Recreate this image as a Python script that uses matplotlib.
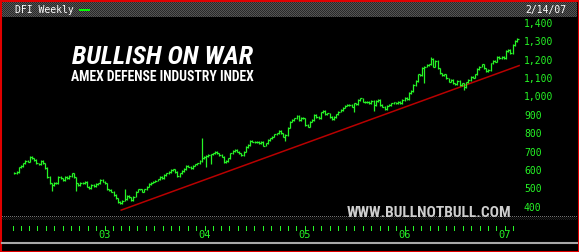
import numpy as np
import pandas as pd
import matplotlib
matplotlib.use("Agg")
import matplotlib.pyplot as plt
import matplotlib.dates as mdates
import matplotlib.transforms as mtransforms
from matplotlib.patches import Rectangle
from matplotlib.lines import Line2D

W, H = 579, 252

# weekly closes (2002 -> mid 2003, 2003 -> 2005, 2005 -> 2/14/07)
closes_a = [586, 593, 617, 624, 639, 653, 648, 675, 666, 657,
            639, 635, 653, 639, 614, 566, 530, 521, 534, 530,
            566, 557, 548, 566, 557, 570, 585, 563, 530, 521,
            534, 530, 539, 512, 503, 521, 516, 527, 530, 548,
            539, 530, 498, 494, 485, 467, 449, 430, 422, 436,
            443, 461, 454, 440, 458, 485, 498, 498, 485, 498,
            512, 527, 534, 539, 545, 552, 566, 557, 576, 585,
            593, 603, 607, 593, 570, 585]
closes_b = [597, 608, 626, 621, 615, 626, 634, 639, 652, 666,
            675, 680, 684, 688, 693, 702, 693, 684, 675, 645,
            652, 666, 693, 706, 711, 702, 693, 684, 702, 729,
            739, 760, 757, 753, 757, 748, 757, 735, 748, 766,
            775, 784, 797, 802, 815, 802, 784, 793, 833, 865,
            874, 884, 898, 874, 887, 884, 847, 838, 865, 874,
            902, 892, 884, 916, 923, 905, 911, 892, 880, 892,
            905, 920, 929, 942, 952, 956]
closes_c = [956, 947, 965, 960, 983, 992, 974, 970, 974, 965,
            978, 956, 978, 983, 956, 947, 934, 952, 956, 965,
            970, 965, 974, 965, 983, 996, 989, 1020, 1032, 1065,
            1086, 1122, 1119, 1159, 1164, 1173, 1177, 1206, 1164, 1195,
            1155, 1128, 1119, 1122, 1101, 1083, 1092, 1074, 1068, 1086,
            1065, 1074, 1055, 1079, 1092, 1110, 1105, 1122, 1152, 1164,
            1177, 1155, 1141, 1146, 1182, 1195, 1191, 1218, 1209, 1218,
            1209, 1249, 1255, 1237, 1282, 1304, 1315]
closes = np.array(closes_a + closes_b + closes_c, dtype=float)

# bars with long wicks (bar number, wick end)
wick_bars = [17, 28, 50, 85, 87, 89, 123, 154, 163, 186, 189, 204]
wick_ends = [494, 494, 494, 775, 621, 641, 766, 923, 929, 1079, 1215, 1040]

# red support line
trend_dates = ["2003-03-03", "2007-02-22"]
trend_vals = [385, 1170]

yticks = [400, 500, 600, 700, 800, 900, 1000, 1100, 1200, 1300, 1400]
year_labels = ["03", "04", "05", "06", "07"]
year_starts = ["2003-01-01", "2004-01-01", "2005-01-01", "2006-01-01", "2007-01-01"]

green = "#26f526"
narrow = ["Roboto Condensed", "Open Sans Condensed", "DejaVu Sans"]
mono = ["DejaVu Sans Mono"]

fig = plt.figure(figsize=(W / 100, H / 100), dpi=100, facecolor="black")
renderer = fig.canvas.get_renderer()


def fy(p):  # pixel row -> figure fraction
    return 1 - p / H


def px_date(p):  # pixel column -> date number
    return mdates.date2num(pd.Timestamp("2003-01-01")) + (p - 104.5) / 100.1 * 365.25


def fit_text(xc, ybase, s, width, maxsize, **kw):
    # centred text, shrunk until it is no wider than the reference
    t = fig.text(xc / W, fy(ybase), s, ha="center", va="baseline", fontsize=maxsize, **kw)
    w = t.get_window_extent(renderer).width
    if w > width:
        t.set_fontsize(maxsize * width / w)
    return t


# header strip, checkered grey
hh, hw = 15, 575
chk = (np.indices((hh, hw)).sum(axis=0) % 2).astype(float)
head = np.dstack([0.16 + 0.17 * chk] * 3)
fig.figimage(head, xo=2, yo=H - 17, origin="upper")

# dotted band under the plot
band = np.zeros((4, hw, 3))
band[0, ::2, :] = 0.45
band[1:, :, :] = np.dstack([0.12 * chk[:3]] * 3)
fig.figimage(band, xo=2, yo=H - 220, origin="upper")

ax = fig.add_axes([2 / W, fy(216), 575 / W, 199 / H])
ax.set_facecolor("black")
for s in ax.spines.values():
    s.set_visible(False)
ax.set_xticks([])
ax.set_yticks([])
ax.set_xlim(px_date(2), px_date(577))
ax.set_ylim(353, 1434)

dates = pd.date_range("2002-02-06", "2007-02-14", periods=len(closes))
x = mdates.date2num(dates)
dx = np.median(np.diff(x))
prev = np.r_[closes[0], closes[:-1]]
lo = np.minimum(prev, closes)
hi = np.maximum(prev, closes)
for b, w in zip(wick_bars, wick_ends):
    lo[b] = min(lo[b], w)
    hi[b] = max(hi[b], w)

ax.plot(mdates.date2num(pd.to_datetime(trend_dates)), trend_vals,
        color="#b80000", lw=1.1, zorder=2)
ax.vlines(x, lo - 4, hi + 4, color=green, lw=0.9, zorder=3)
ax.hlines(closes, x, x + dx * 0.9, color=green, lw=0.9, zorder=3)

# price labels on the right
off = mtransforms.ScaledTranslation(0, -3.5 / 100, fig.dpi_scale_trans)
for v in yticks:
    ax.text((524 - 2) / 575, v, f"{v:,}", transform=ax.get_yaxis_transform() + off,
            ha="left", va="baseline", color=green, family=mono, fontsize=7)

# month ticks and year labels
axt = fig.add_axes([2 / W, fy(230.5), 575 / W, 4.5 / H])
axt.set_xlim(ax.get_xlim())
axt.set_ylim(0, 1)
axt.axis("off")
months = mdates.date2num(pd.date_range("2002-02-01", "2007-02-01", freq="MS"))
axt.vlines(months, 0, 1, color=green, lw=0.72, antialiased=False)
ytr = mtransforms.blended_transform_factory(axt.transData, fig.transFigure)
for lab, d in zip(year_labels, year_starts):
    axt.text(mdates.date2num(pd.Timestamp(d)), fy(238), lab, transform=ytr,
             ha="center", va="baseline", color=green, family=mono, fontsize=7.5)

# header texts
fig.text(15 / W, fy(13), "DFI Weekly", color="white", family=mono, fontsize=7, va="baseline")
fig.add_artist(Rectangle((79 / W, fy(10.7)), 11 / W, 2 / H, transform=fig.transFigure,
                         color="#00ff00", lw=0))
fig.text(566 / W, fy(13.3), "2/14/07", color="white", family=mono, fontsize=7,
         ha="right", va="baseline")

# titles
fit_text(162.7, 64.3, "BULLISH ON WAR", 181, 20, color="white", family=narrow,
         fontweight="bold", fontstyle="italic", fontstretch="condensed")
fit_text(162, 81, "AMEX DEFENSE INDUSTRY INDEX", 182, 11, color="white", family=narrow,
         fontweight="bold", fontstretch="condensed")
fit_text(428.8, 216.7, "WWW.BULLNOTBULL.COM", 165, 11.5, color="#cfcfcf", family=narrow,
         fontweight="bold", fontstretch="condensed", zorder=10)

# bottom grey rule and red frame
fig.add_artist(Line2D([2 / W, 577 / W], [fy(243)] * 2, color="#a8a8a8", lw=1.5,
                      transform=fig.transFigure))
fig.add_artist(Rectangle((0, 0), 1, 1, transform=fig.transFigure, fill=False,
                         edgecolor="#e00000", lw=2.2))

fig.savefig("out.png", dpi=100, facecolor="black")
